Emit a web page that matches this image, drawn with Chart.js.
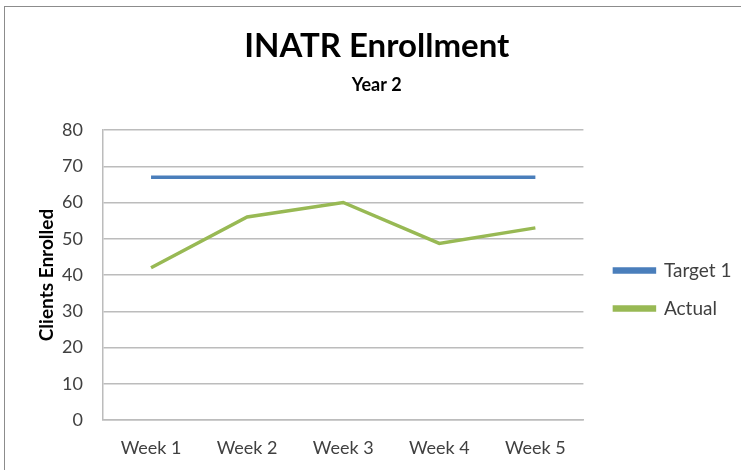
<!DOCTYPE html>
<html>
<head>
<meta charset="utf-8">
<script src="https://cdn.jsdelivr.net/npm/chart.js@4"></script>
<style>
  html, body { margin: 0; padding: 0; background: #fff; }
  #wrap { position: relative; width: 741px; height: 470px; overflow: hidden; }
  #frame { position: absolute; left: 4px; top: 6px; width: 800px; height: 500px;
           border-left: 1px solid #8c8c8c; border-top: 1px solid #8c8c8c; }
  canvas { position: absolute; left: 0; top: 0; }
</style>
</head>
<body>
<div id="wrap">
  <div id="frame"></div>
  <canvas id="chart" width="741" height="470"></canvas>
</div>
<script>
const weeks = ['Week 1', 'Week 2', 'Week 3', 'Week 4', 'Week 5'];
const target1 = [67, 67, 67, 67, 67];
const actual = [42, 56, 60, 48.7, 53];
const yMin = 0;
const yMax = 80;
const yStep = 10;

const FONT = 'Lato, "Open Sans", sans-serif';
const GRID = '#bcbcbc';
const TEXT = '#404040';

// nudge legend and titles to where the original has them
const nudge = {
  id: 'nudge',
  afterLayout(chart) {
    const lg = chart.legend;
    lg.left += 12; lg.right += 12;
    lg.top += 55; lg.bottom += 55;
    chart.boxes.forEach(b => {
      if (b.position === 'top') { b.left += 12; b.right += 12; }
    });
  }
};

new Chart(document.getElementById('chart'), {
  type: 'line',
  data: {
    labels: weeks,
    datasets: [
      {
        label: 'Target 1',
        data: target1,
        borderColor: '#4a7ebb',
        backgroundColor: '#4a7ebb',
        borderWidth: 3.5,
        pointRadius: 0,
        tension: 0
      },
      {
        label: 'Actual',
        data: actual,
        borderColor: '#98b954',
        backgroundColor: '#98b954',
        borderWidth: 3.5,
        pointRadius: 0,
        tension: 0
      }
    ]
  },
  options: {
    responsive: false,
    animation: false,
    devicePixelRatio: 1,
    layout: { padding: { top: 10, right: 11.5, bottom: 11, left: 0 } },
    plugins: {
      title: {
        display: true,
        text: 'INATR Enrollment',
        color: '#000',
        font: { family: FONT, size: 33, weight: 'bold' },
        padding: { top: 17, bottom: 7.6 }
      },
      subtitle: {
        display: true,
        text: 'Year 2',
        color: '#000',
        font: { family: FONT, size: 18, weight: 'bold' },
        padding: { top: 0, bottom: 34.2 }
      },
      legend: {
        position: 'right',
        labels: {
          boxWidth: 40,
          boxHeight: 3,
          padding: 19,
          color: TEXT,
          font: { family: FONT, size: 19 }
        }
      },
      tooltip: { enabled: false }
    },
    scales: {
      x: {
        offset: true,
        afterFit(scale) { scale.height = 39; },
        grid: { display: false, drawTicks: false },
        border: { display: true, color: GRID, width: 1.5 },
        ticks: { padding: 17, color: TEXT, font: { family: FONT, size: 18 } }
      },
      y: {
        min: yMin,
        max: yMax,
        afterFit(scale) { scale.width = 103; },
        grid: { color: GRID, lineWidth: 1.5, drawTicks: false },
        border: { display: true, color: GRID, width: 1.5 },
        ticks: { stepSize: yStep, padding: 20, color: TEXT, font: { family: FONT, size: 18 } },
        title: {
          display: true,
          text: 'Clients Enrolled',
          color: '#000',
          font: { family: FONT, size: 19, weight: 'bold' },
          padding: { top: 35 }
        }
      }
    }
  },
  plugins: [nudge]
});
</script>
</body>
</html>
